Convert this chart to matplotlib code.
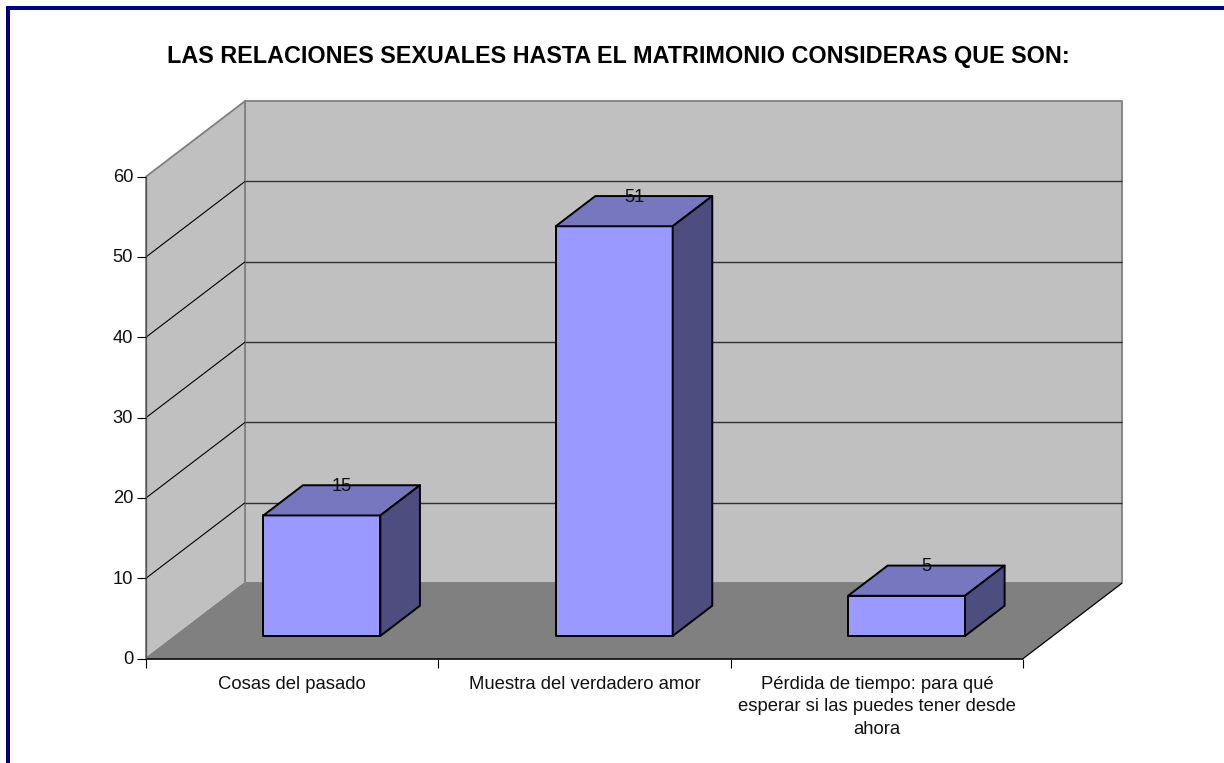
import matplotlib
matplotlib.use('Agg')
import matplotlib.pyplot as plt
from matplotlib.patches import Polygon

plt.rcParams['font.family'] = ['Liberation Sans', 'DejaVu Sans']

title = "LAS RELACIONES SEXUALES HASTA EL MATRIMONIO CONSIDERAS QUE SON:"
categories = ["Cosas del pasado",
              "Muestra del verdadero amor",
              "Pérdida de tiempo: para qué\nesperar si las puedes tener desde\nahora"]
values = [15, 51, 5]
y_ticks = [0, 10, 20, 30, 40, 50, 60]

W, H = 1224, 763
# front plane of the fake 3d box, in pixels
left, right, bottom, top = 146, 1023, 658.6, 176.6
depth_px = (99, 75.5)

fig = plt.figure(figsize=(W / 100, H / 100), dpi=100, facecolor='white')
ax = fig.add_axes([left / W, 1 - bottom / H, (right - left) / W, (bottom - top) / H])
ax.set_xlim(0, 3)
ax.set_ylim(0, 60)
ax.axis('off')

dx = depth_px[0] / (right - left) * 3
dy = depth_px[1] / (bottom - top) * 60
px_y = 60 / (bottom - top)


def pt(x, y, d=0.0):
    # oblique projection: d=0 front of the box, d=1 back wall
    return (x + d * dx, y + d * dy)


def face(points, color, edge, lw=1.0, z=1):
    ax.add_patch(Polygon(points, closed=True, facecolor=color, edgecolor=edge,
                         linewidth=lw, zorder=z, clip_on=False, joinstyle='round'))


def line(a, b, color, lw=1.0, z=2):
    ax.plot([a[0], b[0]], [a[1], b[1]], color=color, lw=lw, zorder=z, clip_on=False,
            solid_capstyle='butt')


wall = '#C0C0C0'
floor = '#808080'
wall_edge = '#808080'

# walls and floor
face([pt(0, 0, 1), pt(3, 0, 1), pt(3, 60, 1), pt(0, 60, 1)], wall, wall_edge, 1.3)
face([pt(0, 0), pt(0, 0, 1), pt(0, 60, 1), pt(0, 60)], wall, wall_edge, 1.3)
face([pt(0, 0), pt(3, 0), pt(3, 0, 1), pt(0, 0, 1)], floor, wall_edge, 1.0)

# gridlines run along the side wall then across the back
for t in y_ticks[1:-1]:
    line(pt(0, t), pt(0, t, 1), '#000000', 0.8)
    line(pt(0, t, 1), pt(3, t, 1), '#303030', 1.0)

# axis lines and ticks
line(pt(0, 0), pt(3, 0), '#000000', 1.1, 3)
line(pt(3, 0), pt(3, 0, 1), '#000000', 0.8, 3)
line(pt(0, 0), pt(0, 60), '#555555', 0.9, 3)
tick_x = 9 / (right - left) * 3
tick_y = 9.5 * px_y
gap_x = 4 / (right - left) * 3
for t in y_ticks:
    line((-tick_x, t), (0, t), '#000000', 0.8, 3)
    ax.text(-tick_x - gap_x, t - px_y, str(t), ha='right', va='center', fontsize=13.2, color='#111111')
for i in range(4):
    line((i, 0), (i, -tick_y), '#000000', 0.8, 3)

# bars
for i, v in enumerate(values):
    x0, x1 = i + 0.3, i + 0.7
    d0, d1 = 0.3, 0.7
    face([pt(x0, 0, d0), pt(x1, 0, d0), pt(x1, v, d0), pt(x0, v, d0)], '#9999FF', '#000000', 1.4, 5)
    face([pt(x0, v, d0), pt(x1, v, d0), pt(x1, v, d1), pt(x0, v, d1)], '#7777BF', '#000000', 1.4, 5)
    face([pt(x1, 0, d0), pt(x1, 0, d1), pt(x1, v, d1), pt(x1, v, d0)], '#4D4D80', '#000000', 1.4, 5)
    # value sits over the middle of the back edge of the top face
    lx = pt(i + 0.5, v, 0.5)[0]
    ly = pt(i + 0.5, v, 0.7)[1] - px_y
    ax.text(lx, ly, str(v), ha='center', va='center', fontsize=13.2, color='#111111', zorder=6)

for i, c in enumerate(categories):
    ax.text(i + 0.5, -2.12, c, ha='center', va='top', fontsize=13.3, color='#111111',
            linespacing=1.45)

fig.text(618 / W, 1 - 56 / H, title, ha='center', va='center', fontsize=16.8,
         fontweight='bold', color='#000000')

# navy frame, cut off on the right and at the bottom of the page
navy = '#000080'
fig.add_artist(plt.Rectangle((6 / W, 1 - 10 / H), 1 - 6 / W, 4 / H, transform=fig.transFigure,
                             facecolor=navy, edgecolor='none'))
fig.add_artist(plt.Rectangle((6 / W, 0), 4 / W, 1 - 6 / H, transform=fig.transFigure,
                             facecolor=navy, edgecolor='none'))

fig.savefig('out.png', dpi=100)
